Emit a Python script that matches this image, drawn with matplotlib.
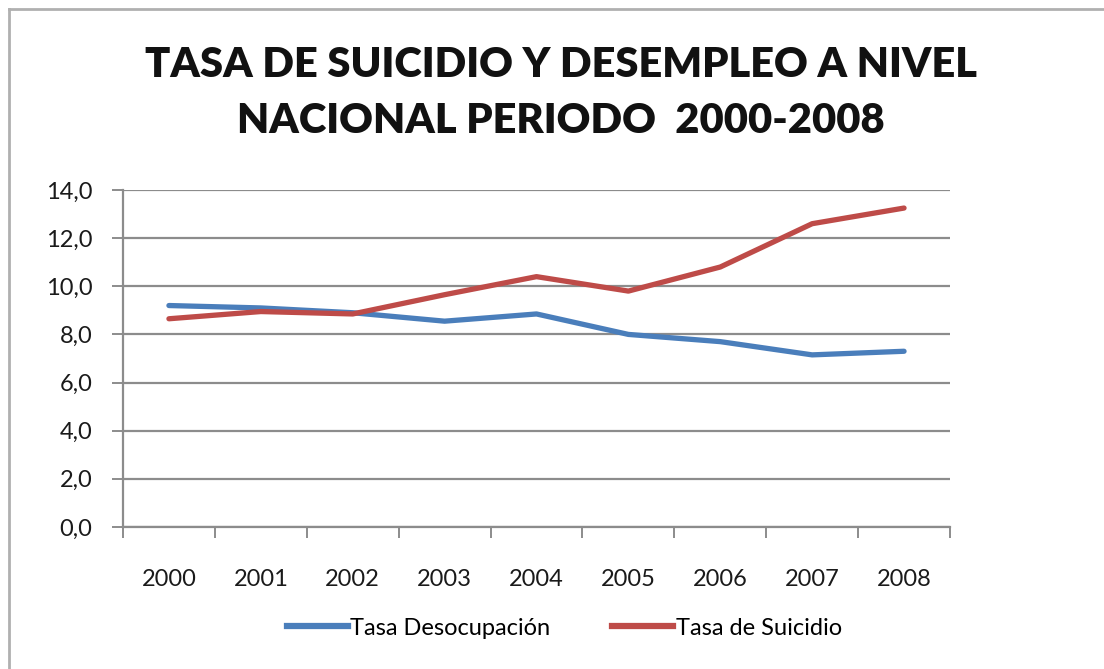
import matplotlib.pyplot as plt
import numpy as np
from matplotlib.lines import Line2D

years = ["2000", "2001", "2002", "2003", "2004", "2005", "2006", "2007", "2008"]
desocupacion = [9.2, 9.1, 8.9, 8.55, 8.85, 8.0, 7.7, 7.15, 7.3]
suicidio = [8.65, 8.95, 8.85, 9.65, 10.4, 9.8, 10.8, 12.6, 13.25]
y_ticks = [0, 2, 4, 6, 8, 10, 12, 14]

BLUE = "#4a7ebb"
RED = "#be4b48"
GRID = "#8c8c8c"

plt.rcParams["font.family"] = ["Lato", "DejaVu Sans"]

fig = plt.figure(figsize=(11.04, 6.69), dpi=100)
ax = fig.add_axes([0.1114, 0.2123, 0.7491, 0.5037])

x = np.arange(len(years))
ax.plot(x, desocupacion, color=BLUE, linewidth=3.8, solid_capstyle="round",
        solid_joinstyle="round", label="Tasa Desocupación")
ax.plot(x, suicidio, color=RED, linewidth=3.8, solid_capstyle="round",
        solid_joinstyle="round", label="Tasa de Suicidio")

ax.set_xlim(-0.5, len(years) - 0.5)
ax.set_ylim(0, 14)
ax.set_yticks(y_ticks)
ax.set_yticklabels([f"{v:.1f}".replace(".", ",") for v in y_ticks])
ax.yaxis.grid(True, color=GRID, linewidth=1.6)
ax.set_axisbelow(True)

# category ticks sit between the years, Excel style
ax.set_xticks(np.arange(-0.5, len(years), 1.0))
ax.set_xticklabels([])
ax.set_xticks(x, minor=True)
ax.set_xticklabels(years, minor=True)
ax.tick_params(axis="x", which="major", length=8, width=1.4, color=GRID, direction="out")
ax.tick_params(axis="x", which="minor", length=0, pad=30, labelsize=17, labelcolor="#1a1a1a")
ax.tick_params(axis="y", length=8, width=1.4, color=GRID, pad=14, labelsize=17,
               labelcolor="#1a1a1a")

for side in ("top", "right"):
    ax.spines[side].set_visible(False)
for side in ("left", "bottom"):
    ax.spines[side].set_color(GRID)
    ax.spines[side].set_linewidth(1.6)

fig.text(0.508, 0.861, "TASA DE SUICIDIO Y DESEMPLEO A NIVEL\nNACIONAL PERIODO  2000-2008",
         ha="center", va="center", fontsize=30, fontweight="heavy", linespacing=1.6,
         color="#111111")

handles = [Line2D([], [], color=BLUE, linewidth=4.5),
           Line2D([], [], color=RED, linewidth=4.5)]
fig.legend(handles, ["Tasa Desocupación", "Tasa de Suicidio"], loc="center",
           bbox_to_anchor=(0.511, 0.061), ncol=2, frameon=False, fontsize=17,
           handlelength=2.6, handletextpad=0.1, columnspacing=2.6)

# chart border (top and left edges only, as in the source)
fig.add_artist(Line2D([0.008, 1.0], [0.986, 0.986], transform=fig.transFigure,
                      color="#b0b0b0", linewidth=2.0))
fig.add_artist(Line2D([0.008, 0.008], [0.0, 0.986], transform=fig.transFigure,
                      color="#b0b0b0", linewidth=2.0))

fig.savefig("out.png", dpi=100)
